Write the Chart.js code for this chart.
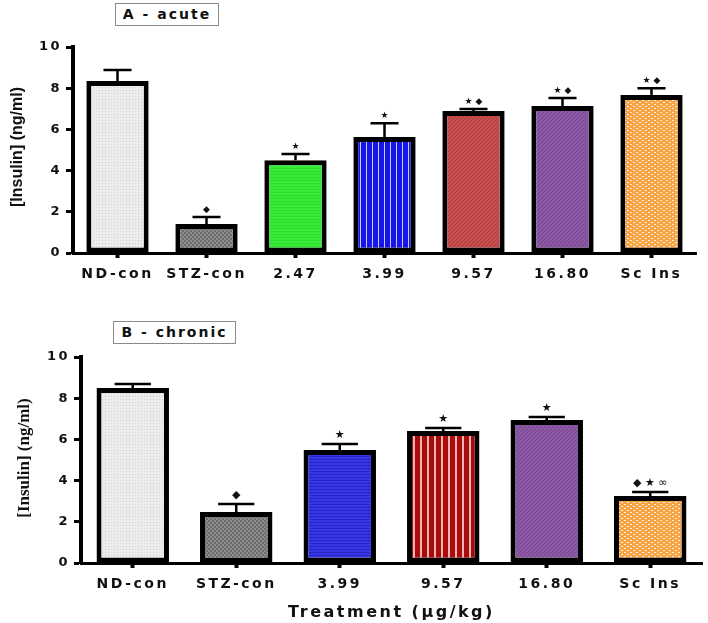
<!DOCTYPE html>
<html>
<head>
<meta charset="utf-8">
<script src="https://cdn.jsdelivr.net/npm/chart.js@4/dist/chart.umd.min.js"></script>
<style>
  body { margin: 0; background: #fff; width: 708px; height: 623px; position: relative; overflow: hidden; }
  .panel { position: absolute; left: 0; width: 708px; }
  #wrapA { top: 0; height: 300px; }
  #wrapB { top: 300px; height: 323px; }
  .tag {
    position: absolute; box-sizing: border-box; border: 1px solid #8a8a8a;
    font: bold 14px "DejaVu Sans"; letter-spacing: 2px; color: #111;
    text-align: center; height: 23px; line-height: 21px; background: #fff;
  }
</style>
</head>
<body>
<div class="panel" id="wrapA"><canvas id="chartA" width="708" height="300"></canvas></div>
<div class="panel" id="wrapB"><canvas id="chartB" width="708" height="323"></canvas></div>
<div class="tag" style="left:115px; top:3px; width:104px;">A - acute</div>
<div class="tag" style="left:113px; top:321px; width:123px;">B - chronic</div>

<script>
// panel A - acute
const categoriesA = ["ND-con", "STZ-con", "2.47", "3.99", "9.57", "16.80", "Sc Ins"];
const insulinA = [8.35, 1.41, 4.5, 5.63, 6.89, 7.14, 7.67];
const semA = [0.53, 0.34, 0.3, 0.67, 0.1, 0.38, 0.33];
const marksA = ["", "\u25C6", "\u2605", "\u2605", "\u2605 \u25C6", "\u2605 \u25C6", "\u2605 \u25C6"];

// panel B - chronic
const categoriesB = ["ND-con", "STZ-con", "3.99", "9.57", "16.80", "Sc Ins"];
const insulinB = [8.5, 2.48, 5.49, 6.41, 6.94, 3.25];
const semB = [0.19, 0.38, 0.29, 0.14, 0.15, 0.2];
const marksB = ["", "\u25C6", "\u2605", "\u2605", "\u2605", "\u25C6 \u2605 \u221E"];

const yTicks = [0, 2, 4, 6, 8, 10];
const yTitle = "[Insulin] (ng/ml)";
const xTitleB = "Treatment (\u00B5g/kg)";

Chart.defaults.font.family = "'DejaVu Sans', Verdana, sans-serif";
Chart.defaults.color = "#111";

function pattern(w, h, bg, draw) {
  const c = document.createElement("canvas");
  c.width = w;
  c.height = h;
  const g = c.getContext("2d");
  g.fillStyle = bg;
  g.fillRect(0, 0, w, h);
  if (draw) draw(g);
  return g.createPattern(c, "repeat");
}

function diag(color) {
  return (g) => {
    g.strokeStyle = color;
    g.lineWidth = 1;
    g.beginPath();
    g.moveTo(0, 4);
    g.lineTo(4, 0);
    g.stroke();
  };
}

const fill = {
  nd: pattern(3, 3, "#ececec", (g) => { g.fillStyle = "#d2d2d2"; g.fillRect(0, 0, 1, 1); }),
  stz: pattern(4, 4, "#8e8e8e", (g) => {
    g.fillStyle = "#6c6c6c"; g.fillRect(0, 0, 2, 2); g.fillRect(2, 2, 2, 2);
  }),
  green: pattern(1, 3, "#36ec36", (g) => { g.fillStyle = "#30dc30"; g.fillRect(0, 0, 1, 1); }),
  blueV: pattern(6, 1, "#1616e6", (g) => { g.fillStyle = "#c8c8ff"; g.fillRect(0, 0, 1, 1); }),
  redDiag: pattern(4, 4, "#c64e4e", diag("#b03c3c")),
  purple: pattern(4, 4, "#8c58a4", diag("#7a4692")),
  orange: pattern(6, 4, "#f8a444", (g) => {
    g.fillStyle = "#fff2dc"; g.fillRect(0, 0, 2, 1); g.fillRect(3, 2, 2, 1);
  }),
  blueH: pattern(1, 3, "#3636e6", (g) => { g.fillStyle = "#2626c4"; g.fillRect(0, 0, 1, 1); }),
  redV: pattern(7, 1, "#aa0c0c", (g) => { g.fillStyle = "#f0b4b4"; g.fillRect(0, 0, 2, 1); }),
};

const fillsA = [fill.nd, fill.stz, fill.green, fill.blueV, fill.redDiag, fill.purple, fill.orange];
const fillsB = [fill.nd, fill.stz, fill.blueH, fill.redV, fill.purple, fill.orange];

// the reference has wide, spaced-out lettering
const spacing = {
  id: "spacing",
  beforeDraw(chart) {
    chart.ctx.letterSpacing = "2.5px";
  },
};

const errorBars = {
  id: "errorBars",
  afterDatasetsDraw(chart, args, opts) {
    const ctx = chart.ctx;
    const y = chart.scales.y;
    const values = chart.data.datasets[0].data;
    ctx.save();
    ctx.letterSpacing = "0px";
    chart.getDatasetMeta(0).data.forEach((bar, i) => {
      const top = y.getPixelForValue(values[i] + opts.errors[i]);
      const half = (bar.width * opts.cap) / 2;
      ctx.strokeStyle = "#000";
      ctx.lineWidth = 2.5;
      ctx.beginPath();
      ctx.moveTo(bar.x, bar.y);
      ctx.lineTo(bar.x, top);
      ctx.moveTo(bar.x - half, top);
      ctx.lineTo(bar.x + half, top);
      ctx.stroke();
      if (opts.marks[i]) {
        ctx.fillStyle = "#111";
        ctx.font = opts.markFont;
        ctx.textAlign = "center";
        ctx.textBaseline = "bottom";
        ctx.fillText(opts.marks[i], bar.x, top - 3);
      }
    });
    ctx.restore();
  },
};

const sideTitle = {
  id: "sideTitle",
  afterDraw(chart, args, o) {
    const ctx = chart.ctx;
    const area = chart.chartArea;
    ctx.save();
    ctx.letterSpacing = "0px";
    ctx.translate(o.x, (area.top + area.bottom) / 2 + o.dy);
    ctx.rotate(-Math.PI / 2);
    ctx.font = o.font;
    ctx.fillStyle = "#111";
    ctx.textAlign = "center";
    ctx.textBaseline = "middle";
    ctx.fillText(o.text, 0, 0);
    ctx.restore();
  },
};

function makeChart(id, labels, values, fills, errors, marks, o) {
  return new Chart(document.getElementById(id), {
    type: "bar",
    data: {
      labels,
      datasets: [
        {
          data: values,
          backgroundColor: fills,
          borderColor: "#000",
          borderWidth: 5,
          borderSkipped: false,
          barPercentage: 0.7,
          categoryPercentage: 1,
        },
      ],
    },
    options: {
      responsive: false,
      animation: false,
      layout: { padding: { top: o.top, right: o.right, left: 0, bottom: 0 } },
      plugins: {
        legend: { display: false },
        tooltip: { enabled: false },
        errorBars: { errors, marks, cap: o.cap, markFont: o.markFont },
        sideTitle: { text: yTitle, font: o.yFont, x: o.yTitleX, dy: o.yTitleDy },
      },
      scales: {
        x: {
          grid: {
            drawOnChartArea: false,
            offset: false,
            tickLength: 5,
            tickWidth: 4,
            tickColor: "#000",
          },
          border: { color: "#000", width: 3 },
          ticks: {
            color: "#111",
            font: { size: 14, weight: "bold" },
            padding: 8,
            maxRotation: 0,
            autoSkip: false,
          },
          title: {
            display: !!o.xTitle,
            text: o.xTitle || "",
            color: "#111",
            font: { size: 16, weight: "bold" },
            padding: { top: 0, bottom: 1 },
          },
          afterFit(s) {
            s.height = o.xh;
          },
        },
        y: {
          min: 0,
          max: 10,
          afterBuildTicks(s) {
            s.ticks = yTicks.map((v) => ({ value: v }));
          },
          grid: {
            drawOnChartArea: false,
            tickLength: 7,
            tickWidth: 3,
            tickColor: "#000",
          },
          border: { color: "#000", width: 4 },
          ticks: {
            color: "#111",
            font: { size: 13, weight: "bold" },
            padding: 4,
          },
          afterFit(s) {
            s.width = o.yw;
          },
        },
      },
    },
    plugins: [spacing, errorBars, sideTitle],
  });
}

makeChart("chartA", categoriesA, insulinA, fillsA, semA, marksA, {
  top: 47, right: 12, xh: 47, yw: 73, cap: 0.45,
  markFont: "9px 'DejaVu Sans'",
  yFont: "bold 16px 'Liberation Sans Narrow', 'Liberation Sans', sans-serif",
  yTitleX: 18, yTitleDy: -3,
});

makeChart("chartB", categoriesB, insulinB, fillsB, semB, marksB, {
  top: 57, right: 6, xh: 60, yw: 81, cap: 0.5,
  markFont: "11px 'DejaVu Sans'",
  yFont: "bold 17px 'Liberation Serif', serif",
  yTitleX: 25, yTitleDy: -2,
  xTitle: xTitleB,
});
</script>
</body>
</html>
